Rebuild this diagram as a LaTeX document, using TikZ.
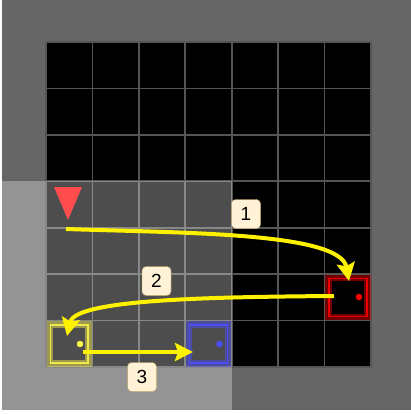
\documentclass[tikz,border=0pt]{standalone}
\usepackage{fontspec}
\setsansfont{Liberation Sans}
\usetikzlibrary{arrows.meta}
\definecolor{bggray}{HTML}{666666}
\definecolor{gridline}{HTML}{555555}
\definecolor{lblfill}{HTML}{FFF2D6}
\definecolor{lbldraw}{HTML}{B89F5E}
\begin{document}
\begin{tikzpicture}[x=1pt,y=-1pt,
  cellgrid/.style={draw=gridline,line width=1.6pt},
  band/.style={draw=#1,draw opacity=0.45,line width=6.5pt,minimum size=38.9pt,inner sep=0pt,outer sep=0pt},
  rim/.style={draw=#1,draw opacity=0.85,line width=1.6pt,minimum size=37.8pt,inner sep=0pt,outer sep=0pt},
  dot/.style={circle,fill=#1,minimum size=6.5pt,inner sep=0pt},
  arr/.style={draw=yellow,line width=4pt,-{Stealth[length=18pt,width=18pt,inset=3pt]}},
  lbl/.style={rounded corners=4pt,fill=lblfill,draw=lbldraw,dash pattern=on 1pt off 1pt,line width=0.8pt,minimum width=29pt,minimum height=29pt,inner sep=0pt,font=\sffamily\fontsize{19}{19}\selectfont}
]
\useasboundingbox (0,0) rectangle (411,414);
% background
\fill[white] (0,0) rectangle (411,414);
\fill[bggray] (2,0) rectangle (411,410);
% grid
\fill[black] (46,42) rectangle (371,367);
\foreach \k in {0,...,7} {
  \draw[cellgrid] ({46+46.43*\k},42) -- ({46+46.43*\k},367);
  \draw[cellgrid] (46,{42+46.43*\k}) -- (371,{42+46.43*\k});
}
% agent
\fill[red] (54,187) -- (82,187) -- (68,220) -- cycle;
% yellow and blue boxes
\node[band=yellow] (yellowband) at (69.2,343.8) {};
\node[rim=yellow] (yellowbox) at (69.2,343.8) {};
\node[dot=yellow] (yellowdot) at (80,344) {};
\node[band=blue] (blueband) at (208.5,343.8) {};
\node[rim=blue] (bluebox) at (208.5,343.8) {};
\node[dot=blue] (bluedot) at (219.5,344) {};
% visible region overlay
\fill[white,fill opacity=0.3] (2,181) rectangle (231.6,410);
% red box
\node[band=red] (redband) at (347.8,297.4) {};
\node[rim=red] (redbox) at (347.8,297.4) {};
\node[dot=red] (reddot) at (359,297) {};
% arrows
\coordinate (s1) at (66,229);
\coordinate (e1) at (349,281);
\coordinate (s2) at (334,296);
\coordinate (e2) at (67,336);
\coordinate (s3) at (83,352);
\coordinate (e3) at (193,352);
\draw[arr] (s1) .. controls (180,233) and (340,232) .. (e1);
\draw[arr] (s2) .. controls (200,297) and (75,300) .. (e2);
\draw[arr] (s3) -- (e3);
% labels
\node[lbl] (l1) at (246,214) {1};
\node[lbl] (l2) at (156.5,281) {2};
\node[lbl] (l3) at (142,377) {3};
\end{tikzpicture}
\end{document}
